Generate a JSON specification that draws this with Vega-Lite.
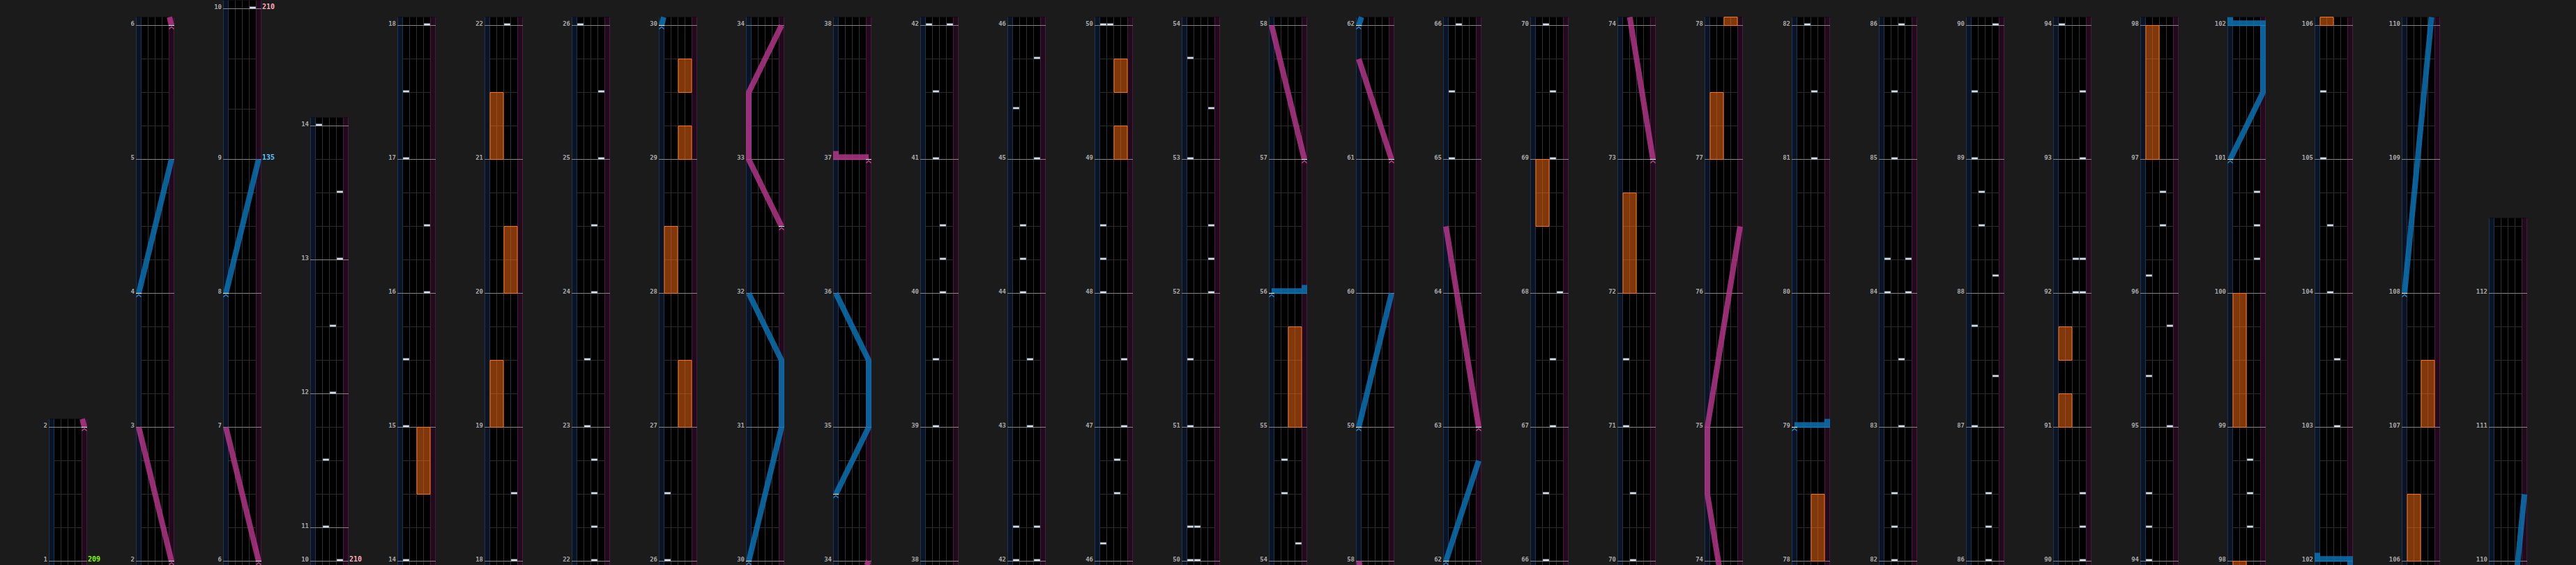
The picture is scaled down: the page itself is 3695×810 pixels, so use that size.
{
"$schema": "https://vega.github.io/schema/vega-lite/v6.json",
"background": "#1b1b1b",
"padding": {"left": 50, "top": 0, "right": 70, "bottom": 0},
"autosize": {"type": "pad"},
"data": {"values": "k,c,y,y2,v,g\nf,0,-0.125,4.25\nf,1,-0.125,16.25\nf,2,-0.125,16.75\nf,3,-0.125,13.25\nf,4,-0.125,16.25\nf,5,-0.125,16.25\nf,6,-0.125,16.25\nf,7,-0.125,16.25\nf,8,-0.125,16.25\nf,9,-0.125,16.25\nf,10,-0.125,16.25\nf,11,-0.125,16.25\nf,12,-0.125,16.25\nf,13,-0.125,16.25\nf,14,-0.125,16.25\nf,15,-0.125,16.25\nf,16,-0.125,16.25\nf,17,-0.125,16.25\nf,18,-0.125,16.25\nf,19,-0.125,16.25\nf,20,-0.125,16.25\nf,21,-0.125,16.25\nf,22,-0.125,16.25\nf,23,-0.125,16.25\nf,24,-0.125,16.25\nf,25,-0.125,16.25\nf,26,-0.125,16.25\nf,27,-0.125,16.25\nf,28,-0.125,10.25\nm,0,0,,1\nm,0,4,,2\nm,1,0,,2\nm,1,4,,3\nm,1,8,,4\nm,1,12,,5\nm,1,16,,6\nm,2,0,,6\nm,2,4,,7\nm,2,8,,8\nm,2,12,,9\nm,2,16.5,,10\nm,3,0,,10\nm,3,1,,11\nm,3,5,,12\nm,3,9,,13\nm,3,13,,14\nm,4,0,,14\nm,4,4,,15\nm,4,8,,16\nm,4,12,,17\nm,4,16,,18\nm,5,0,,18\nm,5,4,,19\nm,5,8,,20\nm,5,12,,21\nm,5,16,,22\nm,6,0,,22\nm,6,4,,23\nm,6,8,,24\nm,6,12,,25\nm,6,16,,26\nm,7,0,,26\nm,7,4,,27\nm,7,8,,28\nm,7,12,,29\nm,7,16,,30\nm,8,0,,30\nm,8,4,,31\nm,8,8,,32\nm,8,12,,33\nm,8,16,,34\nm,9,0,,34\nm,9,4,,35\nm,9,8,,36\nm,9,12,,37\nm,9,16,,38\nm,10,0,,38\nm,10,4,,39\nm,10,8,,40\nm,10,12,,41\nm,10,16,,42\nm,11,0,,42\nm,11,4,,43\nm,11,8,,44\nm,11,12,,45\nm,11,16,,46\nm,12,0,,46\nm,12,4,,47\nm,12,8,,48\nm,12,12,,49\nm,12,16,,50\nm,13,0,,50\nm,13,4,,51\nm,13,8,,52\nm,13,12,,53\nm,13,16,,54\nm,14,0,,54\nm,14,4,,55\nm,14,8,,56\nm,14,12,,57\nm,14,16,,58\nm,15,0,,58\nm,15,4,,59\nm,15,8,,60\nm,15,12,,61\nm,15,16,,62\nm,16,0,,62\nm,16,4,,63\nm,16,8,,64\nm,16,12,,65\nm,16,16,,66\nm,17,0,,66\nm,17,4,,67\nm,17,8,,68\nm,17,12,,69\nm,17,16,,70\nm,18,0,,70\nm,18,4,,71\nm,18,8,,72\nm,18,12,,73\nm,18,16,,74\nm,19,0,,74\nm,19,4,,75\nm,19,8,,76\nm,19,12,,77\nm,19,16,,78\nm,20,0,,78\nm,20,4,,79\nm,20,8,,80\nm,20,12,,81\nm,20,16,,82\nm,21,0,,82\nm,21,4,,83\nm,21,8,,84\nm,21,12,,85\nm,21,16,,86\nm,22,0,,86\nm,22,4,,87\nm,22,8,,88\nm,22,12,,89\nm,22,16,,90\nm,23,0,,90\nm,23,4,,91\nm,23,8,,92\nm,23,12,,93\nm,23,16,,94\nm,24,0,,94\nm,24,4,,95\nm,24,8,,96\nm,24,12,,97\nm,24,16,,98\nm,25,0,,98\nm,25,4,,99\nm,25,8,,100\nm,25,12,,101\nm,25,16,,102\nm,26,0,,102\nm,26,4,,103\nm,26,8,,104\nm,26,12,,105\nm,26,16,,106\nm,27,0,,106\nm,27,4,,107\nm,27,8,,108\nm,27,12,,109\nm,27,16,,110\nm,28,0,,110\nm,28,4,,111\nm,28,8,,112\nb,0,1\nb,0,2\nb,0,3\nb,1,1\nb,1,2\nb,1,3\nb,1,5\nb,1,6\nb,1,7\nb,1,9\nb,1,10\nb,1,11\nb,1,13\nb,1,14\nb,1,15\nb,2,1\nb,2,2\nb,2,3\nb,2,5\nb,2,6\nb,2,7\nb,2,9\nb,2,10\nb,2,11\nb,2,13.5\nb,2,15\nb,3,2\nb,3,3\nb,3,4\nb,3,6\nb,3,7\nb,3,8\nb,3,10\nb,3,11\nb,3,12\nb,4,1\nb,4,2\nb,4,3\nb,4,5\nb,4,6\nb,4,7\nb,4,9\nb,4,10\nb,4,11\nb,4,13\nb,4,14\nb,4,15\nb,5,1\nb,5,2\nb,5,3\nb,5,5\nb,5,6\nb,5,7\nb,5,9\nb,5,10\nb,5,11\nb,5,13\nb,5,14\nb,5,15\nb,6,1\nb,6,2\nb,6,3\nb,6,5\nb,6,6\nb,6,7\nb,6,9\nb,6,10\nb,6,11\nb,6,13\nb,6,14\nb,6,15\nb,7,1\nb,7,2\nb,7,3\nb,7,5\nb,7,6\nb,7,7\nb,7,9\nb,7,10\nb,7,11\nb,7,13\nb,7,14\nb,7,15\nb,8,1\nb,8,2\nb,8,3\nb,8,5\nb,8,6\nb,8,7\nb,8,9\nb,8,10\nb,8,11\nb,8,13\nb,8,14\nb,8,15\nb,9,1\nb,9,2\nb,9,3\nb,9,5\nb,9,6\nb,9,7\nb,9,9\nb,9,10\nb,9,11\nb,9,13\nb,9,14\nb,9,15\nb,10,1\nb,10,2\nb,10,3\nb,10,5\nb,10,6\nb,10,7\nb,10,9\nb,10,10\nb,10,11\nb,10,13\nb,10,14\nb,10,15\nb,11,1\nb,11,2\nb,11,3\nb,11,5\nb,11,6\nb,11,7\nb,11,9\nb,11,10\nb,11,11\nb,11,13\nb,11,14\nb,11,15\nb,12,1\nb,12,2\nb,12,3\nb,12,5\nb,12,6\nb,12,7\nb,12,9\nb,12,10\nb,12,11\nb,12,13\nb,12,14\nb,12,15\nb,13,1\nb,13,2\nb,13,3\nb,13,5\nb,13,6\nb,13,7\nb,13,9\nb,13,10\nb,13,11\nb,13,13\nb,13,14\nb,13,15\nb,14,1\nb,14,2\nb,14,3\nb,14,5\nb,14,6\nb,14,7\nb,14,9\nb,14,10\nb,14,11\nb,14,13\nb,14,14\nb,14,15\nb,15,1\nb,15,2\nb,15,3\nb,15,5\nb,15,6\nb,15,7\nb,15,9\nb,15,10\nb,15,11\nb,15,13\nb,15,14\nb,15,15\nb,16,1\nb,16,2\nb,16,3\nb,16,5\nb,16,6\nb,16,7\nb,16,9\nb,16,10\nb,16,11\nb,16,13\nb,16,14\nb,16,15\nb,17,1\nb,17,2\nb,17,3\nb,17,5\nb,17,6\nb,17,7\nb,17,9\nb,17,10\nb,17,11\nb,17,13\nb,17,14\nb,17,15\nb,18,1\nb,18,2\nb,18,3\nb,18,5\nb,18,6\nb,18,7\nb,18,9\nb,18,10\nb,18,11\nb,18,13\nb,18,14\nb,18,15\nb,19,1\nb,19,2\nb,19,3\nb,19,5\nb,19,6\nb,19,7\nb,19,9\nb,19,10\nb,19,11\nb,19,13\nb,19,14\nb,19,15\nb,20,1\nb,20,2\nb,20,3\nb,20,5\nb,20,6\nb,20,7\nb,20,9\nb,20,10\nb,20,11\nb,20,13\nb,20,14\nb,20,15\nb,21,1\nb,21,2\nb,21,3\nb,21,5\nb,21,6\nb,21,7\nb,21,9\nb,21,10\nb,21,11\nb,21,13\nb,21,14\nb,21,15\nb,22,1\nb,22,2\nb,22,3\nb,22,5\nb,22,6\nb,22,7\nb,22,9\nb,22,10\nb,22,11\nb,22,13\nb,22,14\nb,22,15\nb,23,1\nb,23,2\nb,23,3\nb,23,5\nb,23,6\nb,23,7\nb,23,9\nb,23,10\nb,23,11\nb,23,13\nb,23,14\nb,23,15\nb,24,1\nb,24,2\nb,24,3\nb,24,5\nb,24,6\nb,24,7\nb,24,9\nb,24,10\nb,24,11\nb,24,13\nb,24,14\nb,24,15\nb,25,1\nb,25,2\nb,25,3\nb,25,5\nb,25,6\nb,25,7\nb,25,9\nb,25,10\nb,25,11\nb,25,13\nb,25,14\nb,25,15\nb,26,1\nb,26,2\nb,26,3\nb,26,5\nb,26,6\nb,26,7\nb,26,9\nb,26,10\nb,26,11\nb,26,13\nb,26,14\nb,26,15\nb,27,1\nb,27,2\nb,27,3\nb,27,5\nb,27,6\nb,27,7\nb,27,9\nb,27,10\nb,27,11\nb,27,13\nb,27,14\nb,27,15\nb,28,1\nb,28,2\nb,28,3\nb,28,5\nb,28,6\nb,28,7\nb,28,9\nb,28,10\nn,2,16.5,,3\nn,3,0,,3\nn,3,1,,1\nn,3,3,,1\nn,3,5,,2\nn,3,7,,2\nn,3,9,,3\nn,3,11,,3\nn,3,13,,0\nn,4,0,,0\nn,4,4,,0\nn,4,6,,0\nn,4,8,,3\nn,4,10,,3\nn,4,12,,0\nn,4,14,,0\nn,4,16,,3\nn,5,0,,3\nn,5,2,,3\nn,5,16,,2\nn,6,0,,2\nn,6,1,,2\nn,6,2,,2\nn,6,3,,2\nn,6,4,,1\nn,6,6,,1\nn,6,8,,2\nn,6,10,,2\nn,6,12,,3\nn,6,14,,3\nn,6,16,,0\nn,7,0,,0\nn,7,2,,0\nn,10,4,,1\nn,10,6,,1\nn,10,8,,2\nn,10,9,,2\nn,10,10,,2\nn,10,12,,1\nn,10,14,,1\nn,10,16,,0\nn,10,16,,3\nn,11,0,,0\nn,11,0,,3\nn,11,1,,0\nn,11,1,,3\nn,11,4,,2\nn,11,6,,2\nn,11,8,,1\nn,11,9,,1\nn,11,10,,1\nn,11,12,,3\nn,11,13.5,,0\nn,11,15,,3\nn,12,0.5,,0\nn,12,2,,2\nn,12,3,,2\nn,12,4,,3\nn,12,6,,3\nn,12,8,,0\nn,12,9,,0\nn,12,10,,0\nn,12,16,,0\nn,12,16,,1\nn,13,0,,0\nn,13,0,,1\nn,13,1,,0\nn,13,1,,1\nn,13,4,,0\nn,13,6,,0\nn,13,8,,3\nn,13,9,,3\nn,13,10,,3\nn,13,12,,0\nn,13,13.5,,3\nn,13,15,,0\nn,14,0.5,,3\nn,14,2,,1\nn,14,3,,1\nn,16,12,,0\nn,16,14,,0\nn,16,16,,1\nn,17,0,,1\nn,17,2,,1\nn,17,4,,2\nn,17,6,,2\nn,17,8,,3\nn,17,12,,2\nn,17,14,,2\nn,17,16,,1\nn,18,0,,1\nn,18,2,,1\nn,18,4,,0\nn,18,6,,0\nn,20,12,,2\nn,20,14,,2\nn,20,16,,1\nn,21,0,,1\nn,21,1,,1\nn,21,2,,1\nn,21,4,,2\nn,21,6,,2\nn,21,8,,0\nn,21,8,,3\nn,21,9,,0\nn,21,9,,3\nn,21,12,,1\nn,21,14,,1\nn,21,16,,2\nn,22,0,,2\nn,22,1,,2\nn,22,2,,2\nn,22,4,,0\nn,22,5.5,,3\nn,22,7,,0\nn,22,8.5,,3\nn,22,10,,1\nn,22,11,,1\nn,22,12,,0\nn,22,14,,0\nn,22,16,,3\nn,23,0,,3\nn,23,1,,3\nn,23,2,,3\nn,23,8,,2\nn,23,8,,3\nn,23,9,,2\nn,23,9,,3\nn,23,12,,3\nn,23,14,,3\nn,23,16,,0\nn,24,0,,0\nn,24,1,,0\nn,24,2,,0\nn,24,4,,3\nn,24,5.5,,0\nn,24,7,,3\nn,24,8.5,,0\nn,24,10,,2\nn,24,11,,2\nn,25,1,,2\nn,25,2,,2\nn,25,3,,2\nn,25,9,,3\nn,25,10,,3\nn,25,11,,3\nn,26,4,,2\nn,26,6,,2\nn,26,8,,1\nn,26,10,,1\nn,26,12,,0\nn,26,14,,0\nx,4,2,4,1\nx,5,4,6,0\nx,5,8,10,1\nx,5,12,14,0\nx,7,4,6,1\nx,7,8,10,0\nx,7,12,13,1\nx,7,14,15,1\nx,12,12,13,1\nx,12,14,15,1\nx,14,4,7,1\nx,17,10,12,0\nx,18,8,11,0\nx,19,12,14,0\nx,19,16,16.25,1\nx,20,0,2,1\nx,23,4,5,0\nx,23,6,7,0\nx,24,12,16,0\nx,25,-0.125,0,0\nx,25,4,8,0\nx,26,16,16.25,0\nx,27,0,2,0\nx,27,4,6,1\nlr,0,4,,3.85,a\nlr,0,4.25,,3.556,a\nlr,1,0,,3.85,a\nlr,1,4,,-0.85,a\nlr,1,16,,3.85,b\nlr,1,16.25,,3.556,b\nlb,1,8,,-0.85,c\nlb,1,12,,3.85,c\nlr,2,0,,3.85,a\nlr,2,4,,-0.85,a\nlb,2,8,,-0.85,b\nlb,2,12,,3.85,b\nlb,7,16,,-0.85,a\nlb,7,16.25,,-0.556,a\nlb,8,0,,-0.85,a\nlb,8,4,,3.85,a\nlb,8,6,,3.85,a\nlb,8,8,,-0.85,a\nlr,8,10,,3.85,b\nlr,8,12,,-0.85,b\nlr,8,14,,-0.85,b\nlr,8,16,,3.85,b\nlr,9,-0.125,,3.556,a\nlr,9,0,,3.85,a\nlb,9,2,,-0.85,b\nlb,9,4,,3.85,b\nlb,9,6,,3.85,b\nlb,9,8,,-0.85,b\nlr,9,12.07,,3.85,c\nlr,9,12.07,,-0.85,c\nlr,9,12.25,,-0.85,c\nlb,14,8.07,,-0.85,a\nlb,14,8.07,,3.85,a\nlb,14,8.25,,3.85,a\nlr,14,12,,3.85,b\nlr,14,16,,-0.85,b\nlr,15,-0.125,,-0.703,a\nlr,15,0,,-0.85,a\nlb,15,4,,-0.85,b\nlb,15,8,,3.85,b\nlr,15,12,,3.85,c\nlr,15,15,,-0.85,c\nlb,15,16,,-0.85,d\nlb,15,16.25,,-0.458,d\nlb,16,0,,-0.85,a\nlb,16,3,,3.85,a\nlr,16,4,,3.85,b\nlr,16,10,,-0.85,b\nlr,18,12,,3.85,a\nlr,18,16.25,,0.521,a\nlr,19,-0.125,,0.815,a\nlr,19,2,,-0.85,a\nlr,19,4,,-0.85,a\nlr,19,10,,3.85,a\nlb,20,4.07,,-0.85,a\nlb,20,4.07,,3.85,a\nlb,20,4.25,,3.85,a\nlb,25,12,,-0.85,a\nlb,25,14,,3.85,a\nlb,25,16.07,,3.85,a\nlb,25,16.07,,-0.85,a\nlb,25,16.25,,-0.85,a\nlb,26,-0.125,,3.85,a\nlb,26,0.07,,3.85,a\nlb,26,0.07,,-0.85,a\nlb,26,0.25,,-0.85,a\nlb,27,8,,-0.85,a\nlb,27,16.25,,3.028,a\nlb,28,-0.125,,2.851,a\nlb,28,2,,3.85,a\nsr,0,4,,3.85\nsr,1,0,,3.85\nsr,1,16,,3.85\nsb,1,8,,-0.85\nsr,2,0,,3.85\nsb,2,8,,-0.85\nsb,7,16,,-0.85\nsb,8,0,,-0.85\nsr,8,10,,3.85\nsb,9,2,,-0.85\nsr,9,12,,3.85\nsb,14,8,,-0.85\nsr,14,12,,3.85\nsb,15,4,,-0.85\nsr,15,12,,3.85\nsb,15,16,,-0.85\nsb,16,0,,-0.85\nsr,16,4,,3.85\nsr,18,12,,3.85\nsb,20,4,,-0.85\nsb,25,12,,-0.85\nsb,27,8,,-0.85\nt,0,0,,209,s\nt,2,12,,135,d\nt,2,16.5,,210,u\nt,3,0,,210,u", "format": {"type": "csv", "parse": {"c": "number", "y": "number", "y2": "number", "v": "number"}}},
"facet": {"column": {"field": "c", "type": "ordinal", "title": null, "header": {"labels": false, "title": null, "labelPadding": 0, "titlePadding": 0}}},
"spacing": 70,
"bounds": "flush",
"spec": {
 "width": 55,
 "height": 810,
 "layer": [
  {"transform": [{"filter": "datum.k==='f'"}], "mark": {"type": "rect", "fillOpacity": 0, "strokeOpacity": 0},
   "encoding": {"x": {"datum": -3.25, "type": "quantitative", "scale": {"domain": [-1.25, 4.25], "nice": false, "zero": false}, "axis": null}, "x2": {"datum": -3.2}, "y": {"datum": 0, "type": "quantitative", "scale": {"domain": [-0.11458, 16.76042], "nice": false, "zero": false}, "axis": null}, "y2": {"datum": 4}}},
  {"transform": [{"filter": "datum.k==='f'"}], "mark": {"type": "rect", "color": "#000000", "clip": true},
   "encoding": {"x": {"datum": -1.25, "type": "quantitative"}, "x2": {"datum": 4.25}, "y": {"field": "y", "type": "quantitative"}, "y2": {"field": "y2"}}},
  {"transform": [{"filter": "datum.k==='f'"}], "mark": {"type": "rect", "color": "#0b1424", "clip": true},
   "encoding": {"x": {"datum": -1.25, "type": "quantitative"}, "x2": {"datum": -0.5}, "y": {"field": "y", "type": "quantitative"}, "y2": {"field": "y2"}}},
  {"transform": [{"filter": "datum.k==='f'"}], "mark": {"type": "rect", "color": "#210a1b", "clip": true},
   "encoding": {"x": {"datum": 3.5, "type": "quantitative"}, "x2": {"datum": 4.25}, "y": {"field": "y", "type": "quantitative"}, "y2": {"field": "y2"}}},
  {"transform": [{"filter": "datum.k==='b'"}], "mark": {"type": "rule", "color": "#2b2b2b", "strokeWidth": 1},
   "encoding": {"x": {"datum": -0.5, "type": "quantitative"}, "x2": {"datum": 3.5}, "y": {"field": "y", "type": "quantitative"}}},
  {"transform": [{"filter": "datum.k==='f'"}], "mark": {"type": "rule", "color": "#303030", "strokeWidth": 1, "clip": true},
   "encoding": {"x": {"datum": 0.5, "type": "quantitative"}, "y": {"field": "y", "type": "quantitative"}, "y2": {"field": "y2"}}},
  {"transform": [{"filter": "datum.k==='f'"}], "mark": {"type": "rule", "color": "#303030", "strokeWidth": 1, "clip": true},
   "encoding": {"x": {"datum": 1.5, "type": "quantitative"}, "y": {"field": "y", "type": "quantitative"}, "y2": {"field": "y2"}}},
  {"transform": [{"filter": "datum.k==='f'"}], "mark": {"type": "rule", "color": "#303030", "strokeWidth": 1, "clip": true},
   "encoding": {"x": {"datum": 2.5, "type": "quantitative"}, "y": {"field": "y", "type": "quantitative"}, "y2": {"field": "y2"}}},
  {"transform": [{"filter": "datum.k==='f'"}], "mark": {"type": "rule", "color": "#1d3552", "strokeWidth": 1, "clip": true},
   "encoding": {"x": {"datum": -1.2, "type": "quantitative"}, "y": {"field": "y", "type": "quantitative"}, "y2": {"field": "y2"}}},
  {"transform": [{"filter": "datum.k==='f'"}], "mark": {"type": "rule", "color": "#1d3552", "strokeWidth": 1, "clip": true},
   "encoding": {"x": {"datum": -0.5, "type": "quantitative"}, "y": {"field": "y", "type": "quantitative"}, "y2": {"field": "y2"}}},
  {"transform": [{"filter": "datum.k==='f'"}], "mark": {"type": "rule", "color": "#4a1a3e", "strokeWidth": 1, "clip": true},
   "encoding": {"x": {"datum": 3.5, "type": "quantitative"}, "y": {"field": "y", "type": "quantitative"}, "y2": {"field": "y2"}}},
  {"transform": [{"filter": "datum.k==='f'"}], "mark": {"type": "rule", "color": "#4a1a3e", "strokeWidth": 1, "clip": true},
   "encoding": {"x": {"datum": 4.2, "type": "quantitative"}, "y": {"field": "y", "type": "quantitative"}, "y2": {"field": "y2"}}},
  {"transform": [{"filter": "datum.k==='m'"}], "mark": {"type": "rule", "color": "#858585", "strokeWidth": 1},
   "encoding": {"x": {"datum": -1.25, "type": "quantitative"}, "x2": {"datum": 4.25}, "y": {"field": "y", "type": "quantitative"}}},
  {"transform": [{"filter": "datum.k==='x' && datum.v===0"}], "mark": {"type": "rect", "fill": "#ff6e12", "fillOpacity": 0.5, "stroke": "#ff7416", "strokeWidth": 1, "clip": true},
   "encoding": {"x": {"datum": -0.45, "type": "quantitative"}, "x2": {"datum": 1.45}, "y": {"field": "y", "type": "quantitative"}, "y2": {"field": "y2"}}},
  {"transform": [{"filter": "datum.k==='x' && datum.v===1"}], "mark": {"type": "rect", "fill": "#ff6e12", "fillOpacity": 0.5, "stroke": "#ff7416", "strokeWidth": 1, "clip": true},
   "encoding": {"x": {"datum": 1.55, "type": "quantitative"}, "x2": {"datum": 3.45}, "y": {"field": "y", "type": "quantitative"}, "y2": {"field": "y2"}}},
  {"transform": [{"filter": "datum.k==='n'"}], "mark": {"type": "tick", "orient": "horizontal", "size": 9, "thickness": 3, "color": "#a9bccd", "opacity": 1, "yOffset": -1.5},
   "encoding": {"x": {"field": "v", "type": "quantitative"}, "y": {"field": "y", "type": "quantitative"}}},
  {"transform": [{"filter": "datum.k==='n'"}], "mark": {"type": "tick", "orient": "horizontal", "size": 7, "thickness": 1, "color": "#ffffff", "opacity": 1, "yOffset": -1.5},
   "encoding": {"x": {"field": "v", "type": "quantitative"}, "y": {"field": "y", "type": "quantitative"}}},
  {"transform": [{"filter": "datum.k==='lb'"}], "mark": {"type": "line", "color": "#0a78bd", "opacity": 0.8, "strokeWidth": 8, "strokeCap": "butt", "strokeJoin": "miter", "clip": true},
   "encoding": {"x": {"field": "v", "type": "quantitative"}, "y": {"field": "y", "type": "quantitative"}, "detail": {"field": "g"}, "order": {"value": null}}},
  {"transform": [{"filter": "datum.k==='lr'"}], "mark": {"type": "line", "color": "#bb3890", "opacity": 0.8, "strokeWidth": 8, "strokeCap": "butt", "strokeJoin": "miter", "clip": true},
   "encoding": {"x": {"field": "v", "type": "quantitative"}, "y": {"field": "y", "type": "quantitative"}, "detail": {"field": "g"}, "order": {"value": null}}},
  {"transform": [{"filter": "datum.k==='sb' || datum.k==='sr'"}], "mark": {"type": "tick", "orient": "horizontal", "size": 8, "thickness": 1, "color": "#ffffff", "opacity": 1},
   "encoding": {"x": {"field": "v", "type": "quantitative"}, "y": {"field": "y", "type": "quantitative"}}},
  {"transform": [{"filter": "datum.k==='sb'"}], "mark": {"type": "point", "shape": "M-1,0.5L0,-0.5L1,0.5", "filled": false, "size": 49, "strokeWidth": 1.2, "color": "#2a8fd0", "opacity": 1, "yOffset": 3.5, "clip": true},
   "encoding": {"x": {"field": "v", "type": "quantitative"}, "y": {"field": "y", "type": "quantitative"}}},
  {"transform": [{"filter": "datum.k==='sr'"}], "mark": {"type": "point", "shape": "M-1,0.5L0,-0.5L1,0.5", "filled": false, "size": 49, "strokeWidth": 1.2, "color": "#c64a9c", "opacity": 1, "yOffset": 3.5, "clip": true},
   "encoding": {"x": {"field": "v", "type": "quantitative"}, "y": {"field": "y", "type": "quantitative"}}},
  {"transform": [{"filter": "datum.k==='m'"}], "mark": {"type": "text", "align": "right", "baseline": "alphabetic", "dx": -2, "font": "DejaVu Sans Mono", "fontWeight": "bold", "fontSize": 9, "color": "#a8a8a8"},
   "encoding": {"x": {"datum": -1.25, "type": "quantitative"}, "y": {"field": "y", "type": "quantitative"}, "text": {"field": "v", "type": "nominal"}}},
  {"transform": [{"filter": "datum.k==='t'"}], "mark": {"type": "text", "align": "left", "baseline": "alphabetic", "dx": 1, "font": "DejaVu Sans Mono", "fontWeight": "bold", "fontSize": 10},
   "encoding": {"x": {"datum": 4.25, "type": "quantitative"}, "y": {"field": "y", "type": "quantitative"}, "text": {"field": "v", "type": "nominal"}, "color": {"field": "g", "type": "nominal", "scale": {"domain": ["s", "d", "u"], "range": ["#7cfc00", "#5cc8ff", "#ffaab8"]}, "legend": null}}}
 ]
},
"config": {"view": {"stroke": null}, "style": {"cell": {"stroke": null}}}
}
